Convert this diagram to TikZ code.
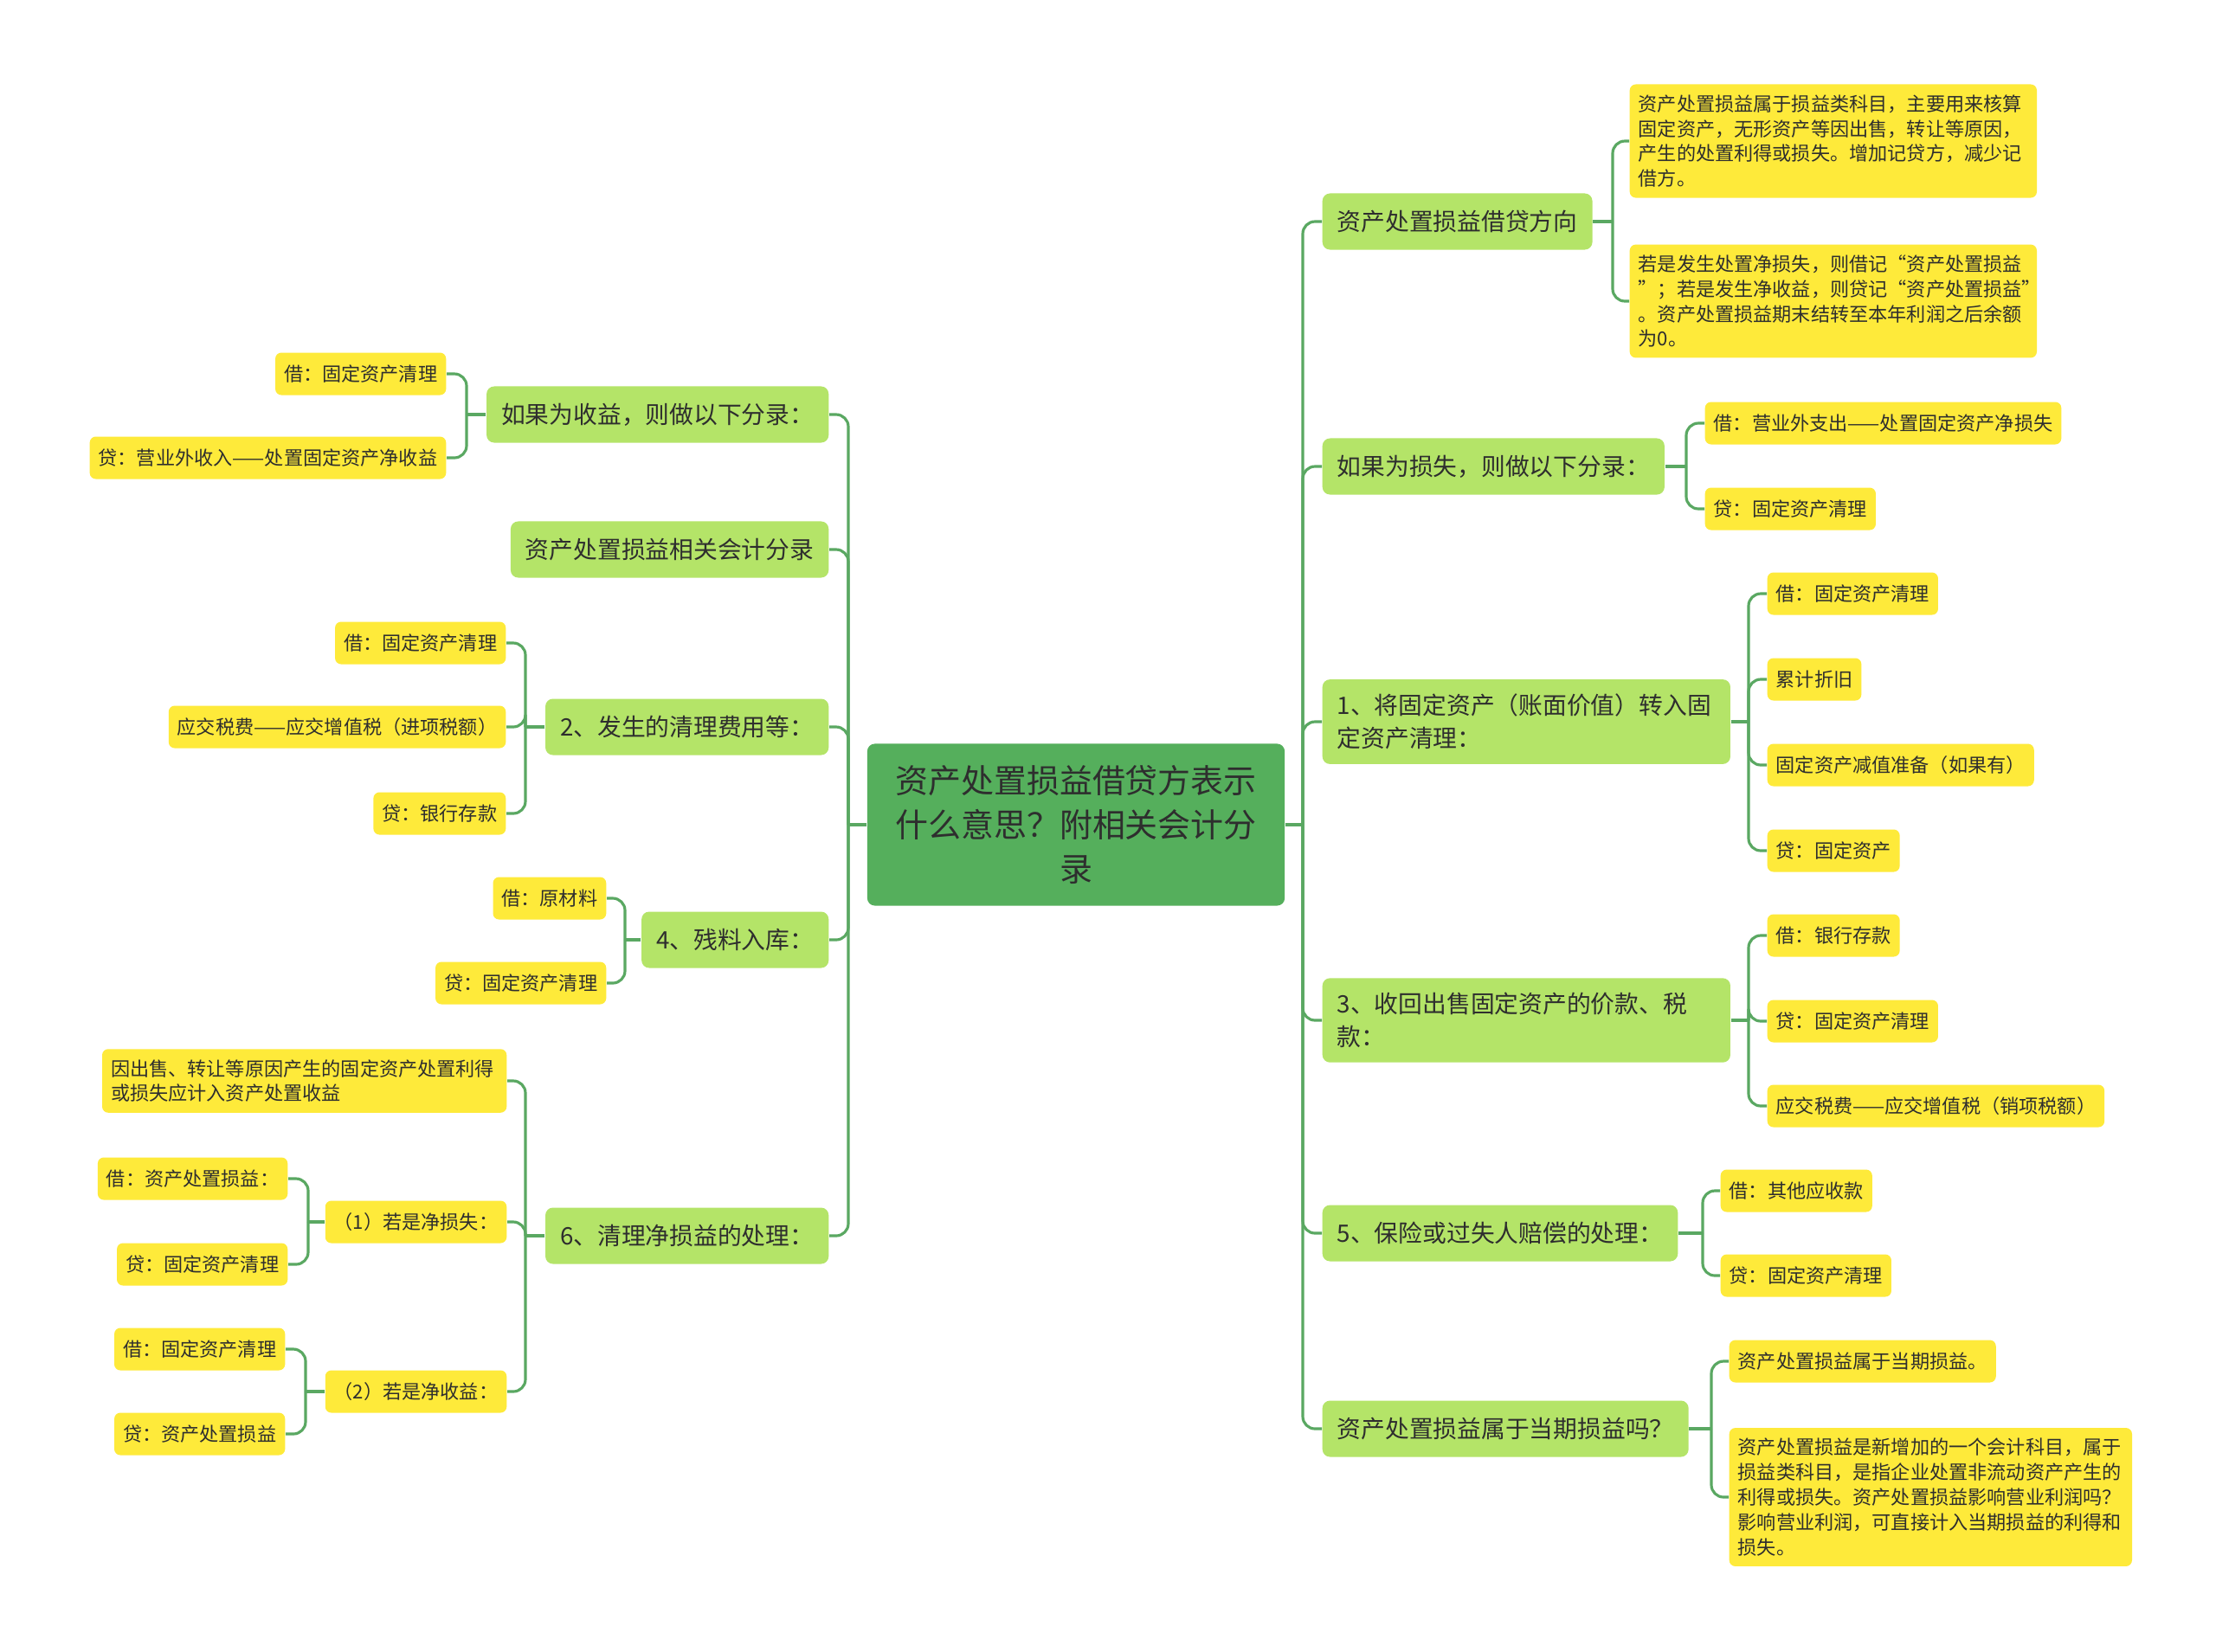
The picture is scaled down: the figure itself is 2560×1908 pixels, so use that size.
\documentclass[tikz,border=0pt]{standalone}
\usepackage{fontspec}
\setmainfont{Noto Sans CJK SC}
\definecolor{rootgreen}{HTML}{55AF5C}
\definecolor{topicgreen}{HTML}{B4E468}
\definecolor{leafyellow}{HTML}{FEEA3A}
\definecolor{linkgreen}{HTML}{5AA862}
\definecolor{textdark}{HTML}{2E2E2E}

\begin{document}
\begin{tikzpicture}[x=0.01cm, y=-0.01cm,
	link/.style={draw=linkgreen, line width=0.9pt, rounded corners=4pt},
	rootbox/.style={fill=rootgreen, rounded corners=2.5pt, align=center, text=textdark,
		minimum width=4.82cm, minimum height=1.87cm, font=\fontsize{10.8}{14.4}\selectfont},
	topic/.style={fill=topicgreen, rounded corners=2.5pt, align=left, text=textdark,
		inner xsep=0.17cm, inner ysep=0.17cm, minimum height=0.65cm, font=\fontsize{7.9}{10.7}\selectfont},
	leaf/.style={fill=leafyellow, rounded corners=2pt, align=left, text=textdark,
		inner xsep=0.1cm, inner ysep=0.12cm, minimum height=0.49cm, font=\fontsize{6.3}{8.2}\selectfont}]
	\fill[white] (0,0) rectangle (2560,1908);
	\useasboundingbox (0,0) rectangle (2560,1908);

	% Draw the root
	\node[rootbox] (root) at (1243,953) {资产处置损益借贷方表示\\什么意思？附相关会计分\\录};

	% Right branches
	\node[topic, anchor=west] (r1) at (1527,256) {资产处置损益借贷方向};
	\node[topic, anchor=west] (r2) at (1527,539) {如果为损失，则做以下分录：};
	\node[topic, anchor=west, text width=4.37cm] (r3) at (1527,834) {1、将固定资产（账面价值）转入固\\定资产清理：};
	\node[topic, anchor=west, text width=4.37cm] (r4) at (1527,1179) {3、收回出售固定资产的价款、税\\款：};
	\node[topic, anchor=west] (r5) at (1527,1425) {5、保险或过失人赔偿的处理：};
	\node[topic, anchor=west] (r6) at (1527,1651) {资产处置损益属于当期损益吗？};

	% Then the right leaves
	\node[leaf, anchor=west, text width=4.5cm] (r1a) at (1882,163) {资产处置损益属于损益类科目，主要用来核算\\固定资产，无形资产等因出售，转让等原因，\\产生的处置利得或损失。增加记贷方，减少记\\借方。};
	\node[leaf, anchor=west, text width=4.5cm] (r1b) at (1882,348) {若是发生处置净损失，则借记“资产处置损益\\”；若是发生净收益，则贷记“资产处置损益”\\。资产处置损益期末结转至本年利润之后余额\\为0。};
	\node[leaf, anchor=west] (r2a) at (1969,489) {借：营业外支出——处置固定资产净损失};
	\node[leaf, anchor=west] (r2b) at (1969,588) {贷：固定资产清理};
	\node[leaf, anchor=west] (r3a) at (2041,686) {借：固定资产清理};
	\node[leaf, anchor=west] (r3b) at (2041,785) {累计折旧};
	\node[leaf, anchor=west] (r3c) at (2041,884) {固定资产减值准备（如果有）};
	\node[leaf, anchor=west] (r3d) at (2041,983) {贷：固定资产};
	\node[leaf, anchor=west] (r4a) at (2041,1081) {借：银行存款};
	\node[leaf, anchor=west] (r4b) at (2041,1180) {贷：固定资产清理};
	\node[leaf, anchor=west] (r4c) at (2041,1278) {应交税费——应交增值税（销项税额）};
	\node[leaf, anchor=west] (r5a) at (1987,1376) {借：其他应收款};
	\node[leaf, anchor=west] (r5b) at (1987,1474) {贷：固定资产清理};
	\node[leaf, anchor=west] (r6a) at (1997,1573) {资产处置损益属于当期损益。};
	\node[leaf, anchor=west, text width=4.45cm] (r6b) at (1997,1730) {资产处置损益是新增加的一个会计科目，属于\\损益类科目，是指企业处置非流动资产产生的\\利得或损失。资产处置损益影响营业利润吗？\\影响营业利润，可直接计入当期损益的利得和\\损失。};

	% Left branches
	\node[topic, anchor=east] (l1) at (958,479) {如果为收益，则做以下分录：};
	\node[topic, anchor=east] (l2) at (958,635) {资产处置损益相关会计分录};
	\node[topic, anchor=east] (l3) at (958,840) {2、发生的清理费用等：};
	\node[topic, anchor=east] (l4) at (958,1086) {4、残料入库：};
	\node[topic, anchor=east] (l5) at (958,1428) {6、清理净损益的处理：};

	% Then the left leaves
	\node[leaf, anchor=east] (l1a) at (516,432) {借：固定资产清理};
	\node[leaf, anchor=east] (l1b) at (516,529) {贷：营业外收入——处置固定资产净收益};
	\node[leaf, anchor=east] (l3a) at (585,743) {借：固定资产清理};
	\node[leaf, anchor=east] (l3b) at (585,840) {应交税费——应交增值税（进项税额）};
	\node[leaf, anchor=east] (l3c) at (585,940) {贷：银行存款};
	\node[leaf, anchor=east] (l4a) at (701,1038) {借：原材料};
	\node[leaf, anchor=east] (l4b) at (701,1136) {贷：固定资产清理};
	\node[leaf, anchor=east, text width=4.47cm] (l5a) at (586,1249) {因出售、转让等原因产生的固定资产处置利得\\或损失应计入资产处置收益};
	\node[leaf, anchor=east] (l5b) at (586,1412) {（1）若是净损失：};
	\node[leaf, anchor=east] (l5c) at (586,1608) {（2）若是净收益：};
	\node[leaf, anchor=east] (l5b1) at (333,1362) {借：资产处置损益：};
	\node[leaf, anchor=east] (l5b2) at (333,1461) {贷：固定资产清理};
	\node[leaf, anchor=east] (l5c1) at (330,1559) {借：固定资产清理};
	\node[leaf, anchor=east] (l5c2) at (330,1657) {贷：资产处置损益};

	% Junctions where the branches split
	\coordinate (jrr) at (1505,953);
	\coordinate (jr1) at (1863,256);
	\coordinate (jr2) at (1948,539);
	\coordinate (jr3) at (2020,834);
	\coordinate (jr4) at (2020,1179);
	\coordinate (jr5) at (1967,1425);
	\coordinate (jr6) at (1977,1651);
	\coordinate (jll) at (980,953);
	\coordinate (jl1) at (539,479);
	\coordinate (jl3) at (607,840);
	\coordinate (jl4) at (722,1086);
	\coordinate (jl5) at (607,1428);
	\coordinate (jl5b) at (356,1412);
	\coordinate (jl5c) at (353,1608);

	% Now the connectors
	\foreach \j/\p/\kids in {jrr/root/{r1,r2,r3,r4,r5,r6}, jr1/r1/{r1a,r1b}, jr2/r2/{r2a,r2b},
			jr3/r3/{r3a,r3b,r3c,r3d}, jr4/r4/{r4a,r4b,r4c}, jr5/r5/{r5a,r5b}, jr6/r6/{r6a,r6b}} {
		\draw[link] (\p.east) -- (\j);
		\foreach \k in \kids \draw[link] (\j) |- (\k.west);
	}
	\foreach \j/\p/\kids in {jll/root/{l1,l2,l3,l4,l5}, jl1/l1/{l1a,l1b}, jl3/l3/{l3a,l3b,l3c},
			jl4/l4/{l4a,l4b}, jl5/l5/{l5a,l5b,l5c}, jl5b/l5b/{l5b1,l5b2}, jl5c/l5c/{l5c1,l5c2}} {
		\draw[link] (\p.west) -- (\j);
		\foreach \k in \kids \draw[link] (\j) |- (\k.east);
	}
\end{tikzpicture}
\end{document}
